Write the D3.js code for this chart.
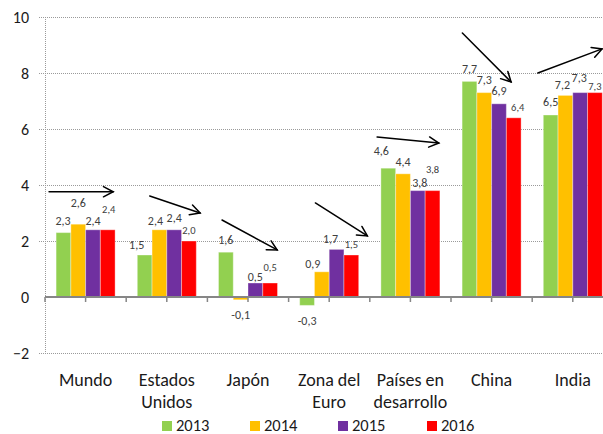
<!DOCTYPE html>
<html>
<head>
<meta charset="utf-8">
<script src="https://cdn.jsdelivr.net/npm/d3@7"></script>
<style>
  html, body { margin: 0; padding: 0; background: #fff; }
  svg { display: block; font-family: Carlito, Lato, "Open Sans", sans-serif; }
</style>
</head>
<body>
<svg id="chart" width="603" height="434"></svg>
<script>
// Crecimiento del PIB (%) por región y año
const categories = [["Mundo"], ["Estados", "Unidos"], ["Japón"], ["Zona del", "Euro"], ["Países en", "desarrollo"], ["China"], ["India"]];
const years = ["2013", "2014", "2015", "2016"];
const s2013 = [2.3, 1.5, 1.6, -0.3, 4.6, 7.7, 6.5];
const s2014 = [2.6, 2.4, -0.1, 0.9, 4.4, 7.3, 7.2];
const s2015 = [2.4, 2.4, 0.5, 1.7, 3.8, 6.9, 7.3];
const s2016 = [2.4, 2.0, 0.5, 1.5, 3.8, 6.4, 7.3];
const yTicks = [-2, 0, 2, 4, 6, 8, 10];
const colors = ["#92D050", "#FFC000", "#7030A0", "#FF0000"];

// Trend arrows: [start category position, start value, end category position, end value]
const trendArrows = [
  [0.05, 3.76, 0.84, 3.76],
  [1.29, 3.61, 1.91, 3.0],
  [2.18, 2.75, 2.86, 1.68],
  [3.33, 3.36, 3.97, 2.18],
  [4.09, 5.71, 4.85, 5.5],
  [5.14, 9.43, 5.74, 7.68],
  [6.07, 8.0, 6.86, 8.86]
];

// Manual nudges for value labels [dx, dy] per series, per category
const labelNudge = [
  [[-0.5, -11.6], [-8, -10], [0, -12], [0, 15.6], [-7, -17], [0, -13], [0, -13]],
  [[0, -21], [-4, -9], [0, 15], [-9, -8], [0, -12], [0, -13], [-3, -11]],
  [[0, -9], [0, -12], [0, -6], [-6, -11], [2, -8], [0, -13], [-1, -15]],
  [[1, -20], [0, -11], [0, -16], [0, -11], [0, -21], [4, -10], [0, -6]]
];

const series = [s2013, s2014, s2015, s2016];
const svg = d3.select("#chart");

const left = 45, bandW = 81.2;
const x = d3.scaleBand().domain(d3.range(categories.length)).range([left, left + bandW * categories.length]).paddingInner(0).paddingOuter(0);
const xs = d3.scaleBand().domain(d3.range(years.length)).range([11.1, 70.1]);
const xPos = d3.scaleLinear().domain([0, categories.length]).range([left, left + bandW * categories.length]);
const y = d3.scaleLinear().domain([-2, 10]).range([353, 17]);
const right = 603;

// Gridlines
const gridG = svg.append("g");
yTicks.filter(t => t !== 0).forEach(t => {
  gridG.append("line")
    .attr("x1", left - 6).attr("x2", right)
    .attr("y1", y(t) + 0.5).attr("y2", y(t) + 0.5)
    .attr("stroke", "#9a9a9a").attr("stroke-width", 1)
    .attr("stroke-dasharray", "1,1");
});
// Vertical value axis (dotted)
gridG.append("line")
  .attr("x1", left + 0.5).attr("x2", left + 0.5)
  .attr("y1", y(10)).attr("y2", y(-2))
  .attr("stroke", "#9a9a9a").attr("stroke-width", 1)
  .attr("stroke-dasharray", "1,1");

// Y axis labels
const yAxis = d3.axisLeft(y).tickValues(yTicks).tickSize(0).tickPadding(0).tickFormat(d3.format("d"));
const yg = svg.append("g").attr("transform", `translate(29,0)`).call(yAxis);
yg.select(".domain").remove();
yg.selectAll("text").attr("font-size", 16).attr("fill", "#1a1a1a").attr("font-family", "Carlito, Lato, sans-serif");

// Bars
series.forEach((vals, j) => {
  svg.append("g").selectAll("rect").data(vals).join("rect")
    .attr("x", (d, i) => x(i) + xs(j))
    .attr("width", xs.bandwidth())
    .attr("y", d => y(Math.max(0, d)))
    .attr("height", d => Math.abs(y(d) - y(0)))
    .attr("fill", colors[j])
    .attr("stroke", "rgba(255,255,255,0.35)")
    .attr("stroke-width", 1);
});

// Category axis along zero line, with ticks every half category
const zeroG = svg.append("g");
zeroG.append("line")
  .attr("x1", left).attr("x2", right)
  .attr("y1", y(0)).attr("y2", y(0))
  .attr("stroke", "#868686").attr("stroke-width", 2);
d3.range(0, categories.length * 2 + 1).forEach(k => {
  const xx = xPos(k / 2);
  if (xx > right) return;
  zeroG.append("line")
    .attr("x1", xx).attr("x2", xx)
    .attr("y1", y(0)).attr("y2", y(0) + 5)
    .attr("stroke", "#868686").attr("stroke-width", 1.5);
});

// Category labels
const catG = svg.append("g");
categories.forEach((lines, i) => {
  const t = catG.append("text")
    .attr("x", x(i) + x.bandwidth() / 2)
    .attr("y", 386)
    .attr("text-anchor", "middle")
    .attr("font-size", 18)
    .attr("fill", "#1a1a1a");
  lines.forEach((ln, k) => {
    t.append("tspan").attr("x", x(i) + x.bandwidth() / 2).attr("dy", k === 0 ? 0 : 22).text(ln);
  });
});

// Value labels
const fmt = v => d3.format(".1f")(v).replace(".", ",").replace("−", "-");
series.forEach((vals, j) => {
  svg.append("g").selectAll("text").data(vals).join("text")
    .attr("x", (d, i) => x(i) + xs(j) + xs.bandwidth() / 2 + labelNudge[j][i][0])
    .attr("y", (d, i) => y(d) + labelNudge[j][i][1])
    .attr("dy", "0.35em")
    .attr("text-anchor", "middle")
    .attr("font-size", j === 3 ? 10.5 : 12)
    .attr("fill", "#404040")
    .text(d => fmt(d));
});

// Trend arrows
const arrowG = svg.append("g").attr("stroke", "#000").attr("stroke-width", 1.5).attr("fill", "none").attr("stroke-linecap", "round");
trendArrows.forEach(([p1, v1, p2, v2]) => {
  const x1 = xPos(p1), y1 = y(v1), x2 = xPos(p2), y2 = y(v2);
  arrowG.append("line").attr("x1", x1).attr("y1", y1).attr("x2", x2).attr("y2", y2);
  const ang = Math.atan2(y2 - y1, x2 - x1);
  const len = 11, spread = Math.PI / 6.5;
  const a1 = ang + Math.PI - spread, a2 = ang + Math.PI + spread;
  arrowG.append("path")
    .attr("d", `M${x2 + len * Math.cos(a1)},${y2 + len * Math.sin(a1)} L${x2},${y2} L${x2 + len * Math.cos(a2)},${y2 + len * Math.sin(a2)}`)
    .attr("stroke-linejoin", "miter");
});

// Legend
const legendX = [162, 250, 338, 427];
const legG = svg.append("g");
years.forEach((yr, j) => {
  legG.append("rect").attr("x", legendX[j]).attr("y", 421).attr("width", 10).attr("height", 10).attr("fill", colors[j]);
  legG.append("text").attr("x", legendX[j] + 14).attr("y", 431)
    .attr("font-size", 16.5).attr("fill", "#1a1a1a").text(yr);
});
</script>
</body>
</html>
